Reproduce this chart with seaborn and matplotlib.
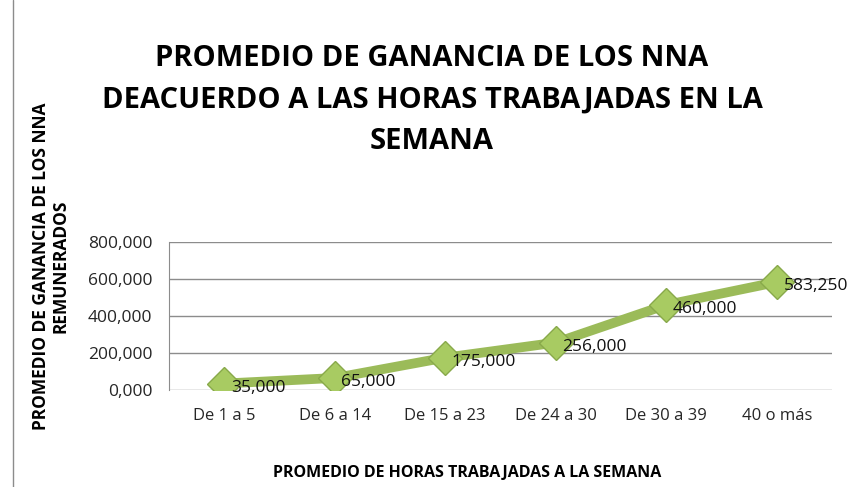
import matplotlib
matplotlib.use("Agg")
import matplotlib.pyplot as plt
import seaborn as sns
import pandas as pd

categorias = ["De 1 a 5", "De 6 a 14", "De 15 a 23", "De 24 a 30", "De 30 a 39", "40 o más"]
ganancia = [35000, 65000, 175000, 256000, 460000, 583250]
etiquetas = ["35,000", "65,000", "175,000", "256,000", "460,000", "583,250"]
yticks = [0, 200000, 400000, 600000, 800000]
ytick_labels = ["0,000", "200,000", "400,000", "600,000", "800,000"]

df = pd.DataFrame({"cat": categorias, "val": ganancia, "pos": range(len(categorias))})

sns.set_style("white")
plt.rcParams["font.family"] = ["Open Sans", "DejaVu Sans"]

fig = plt.figure(figsize=(8.48, 4.87), dpi=100)
ax = fig.add_axes([169 / 848, 1 - 390 / 487, (832 - 169) / 848, (390 - 242) / 487])

sns.lineplot(data=df, x="pos", y="val", ax=ax, color="#9BBB59", linewidth=7,
             marker="D", markersize=17, markerfacecolor="#A8CB62",
             markeredgecolor="#88A94A", markeredgewidth=1, solid_capstyle="round")

for x, y, t in zip(df["pos"], ganancia, etiquetas):
    ax.text(x + 0.06, y - 22000, t, fontsize=12.5, va="center", ha="left", color="#111111")

ax.set_xlim(-0.5, 5.5)
ax.set_ylim(0, 800000)
ax.set_yticks(yticks)
ax.set_yticklabels(ytick_labels, fontsize=12.5)
ax.set_xticks(range(len(categorias)))
ax.set_xticklabels(categorias, fontsize=12)
ax.tick_params(axis="x", pad=13, length=0)
ax.tick_params(axis="y", pad=12, length=0)
ax.grid(axis="y", color="#8C8C8C", linewidth=1)
for s in ["top", "right", "bottom"]:
    ax.spines[s].set_visible(False)
ax.spines["left"].set_color("#8C8C8C")
ax.set_xlabel("")
ax.set_ylabel("")

fig.text(432 / 848, 1 - 100 / 487,
         "PROMEDIO DE GANANCIA DE LOS NNA\nDEACUERDO A LAS HORAS TRABAJADAS EN LA\nSEMANA",
         ha="center", va="center", fontsize=21, fontweight="bold", linespacing=1.55,
         color="black")
fig.text(51 / 848, 1 - 266 / 487, "PROMEDIO DE GANANCIA DE LOS NNA\nREMUNERADOS",
         ha="center", va="center", rotation=90, fontsize=12.5, fontweight="bold",
         linespacing=1.1, color="black")
fig.text(467 / 848, 1 - 473 / 487, "PROMEDIO DE HORAS TRABAJADAS A LA SEMANA",
         ha="center", va="center", fontsize=11.5, fontweight="bold", color="black")

fig.add_artist(plt.Line2D([13 / 848, 13 / 848], [0, 1], color="#8C8C8C", linewidth=1))

fig.savefig("out.png", dpi=100)
